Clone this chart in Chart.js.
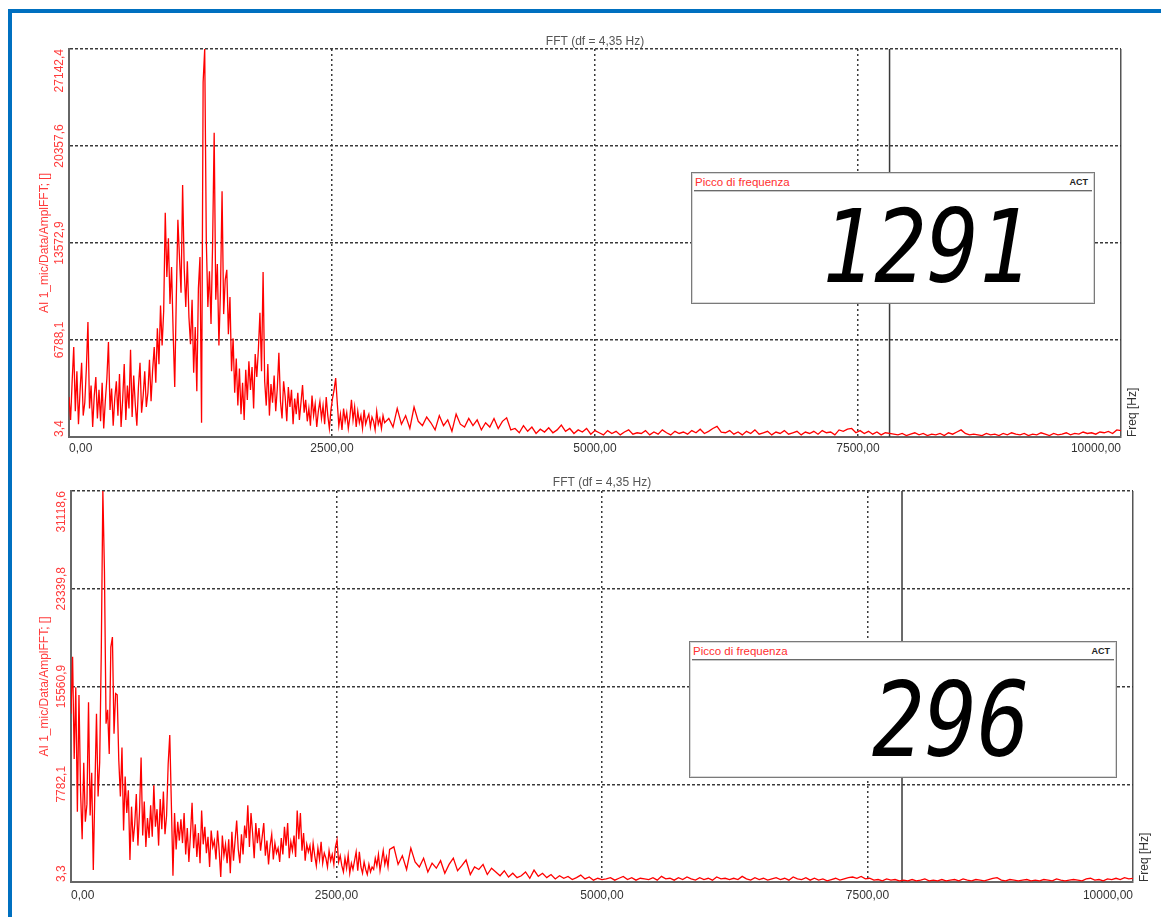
<!DOCTYPE html>
<html>
<head>
<meta charset="utf-8">
<title>FFT - Picco di frequenza</title>
<script src="https://cdn.jsdelivr.net/npm/chart.js@4.4.1/dist/chart.umd.min.js"></script>
<style>
  body { margin: 0; background: #fff; }
  #page { position: relative; width: 1161px; height: 917px; overflow: hidden; font-family: "Liberation Sans", Arial, sans-serif; }
  #frame { position: absolute; left: 8px; top: 9px; width: 1300px; height: 1000px; border-left: 4px solid #0070c0; border-top: 4px solid #0070c0; }
  canvas { position: absolute; left: 0; }
  .disp { position: absolute; background: #fff; border: 1px solid #7a7a7a; box-shadow: inset 0 0 0 1px #d8d8d8; box-sizing: border-box; overflow: hidden; }
  .disp .hdr { position: absolute; left: 2px; right: 2px; top: 2px; height: 15px; border-bottom: 1px solid #6a6a6a; box-shadow: 0 1px 0 #c8c8c8; }
  .disp .name { position: absolute; left: 1px; top: 1px; font-size: 11.5px; color: #ff3030; }
  .disp .act { position: absolute; right: 4px; top: 2px; font-size: 9px; font-weight: bold; color: #222; }
  .disp .num { position: absolute; font-family: "DejaVu Sans Mono", monospace; font-style: oblique; line-height: 1; color: #000; transform-origin: right center; white-space: pre; }
</style>
</head>
<body>
<div id="page">
  <div id="frame"></div>
  <canvas id="fftTop" width="1161" height="462" style="top:0"></canvas>
  <canvas id="fftBot" width="1161" height="455" style="top:462px"></canvas>

  <div class="disp" style="left:691px;top:172px;width:404px;height:132px">
    <div class="hdr"><span class="name">Picco di frequenza</span><span class="act">ACT</span></div>
    <div class="num" id="peakTop" style="right:63px;top:24px;font-size:101px;transform:scaleX(0.86)"></div>
  </div>
  <div class="disp" style="left:689px;top:641px;width:428px;height:137px">
    <div class="hdr"><span class="name">Picco di frequenza</span><span class="act">ACT</span></div>
    <div class="num" id="peakBot" style="right:86px;top:26px;font-size:104px;transform:scaleX(0.84)"></div>
  </div>
</div>

<script>
// bin layout: dense below 3 kHz, coarser above
const freqStepLow = 15;      // Hz, points 0..3000
const freqStartHigh = 3040;  // Hz
const freqStepHigh = 40;     // Hz, points 3040..10000

const xTickValues = [0, 2500, 5000, 7500, 10000];
const xTickLabels = ['0,00', '2500,00', '5000,00', '7500,00', '10000,00'];

const topYTicks = [3.4, 6788.1, 13572.9, 20357.6, 27142.4];
const topYLabels = ['3,4', '6788,1', '13572,9', '20357,6', '27142,4'];
const botYTicks = [3.3, 7782.1, 15560.9, 23339.8, 31118.6];
const botYLabels = ['3,3', '7782,1', '15560,9', '23339,8', '31118,6'];

const topPeak = '1291';
const botPeak = '296';
const topCursor = 7800;
const botCursor = 7825;

// top spectrum, 0..3000 Hz
const topLow = [
  2800, 1200, 3900, 6300, 1800, 4600, 900, 3200, 5200, 1500,
  2400, 4800, 8050, 2000, 3600, 700, 2900, 4200, 1300, 3300,
  1100, 3800, 600, 2500, 4100, 6650, 1900, 3400, 800, 2700,
  3900, 1500, 4400, 700, 2600, 5100, 1200, 3600, 2000, 6100,
  1400, 4300, 2300, 800, 3500, 5200, 1700, 2900, 4600, 2100,
  3100, 5400, 2500, 4700, 6300, 3800, 7600, 5100, 9200, 6400,
  8800, 15680, 11200, 13900, 9300, 11900, 7300, 3500, 9800, 15190,
  12600, 10100, 17630, 11800, 9100, 12300, 8400, 6500, 9600, 4500,
  7700, 3200, 10400, 12600, 1000, 24830, 27142, 13800, 9100, 11600,
  7900, 13500, 21280, 9600, 12100, 6400, 10300, 17200, 8600, 11000,
  11700, 7200, 9800, 4600, 6900, 3100, 5500, 2200, 4800, 1600,
  3800, 1200, 4700, 2600, 5300, 3300, 4900, 2000, 5800, 4200,
  6100, 8700, 4600, 11550, 3900, 2200, 5100, 1500, 3700, 2400,
  4300, 1800, 3400, 5900, 2500, 1300, 3900, 2800, 1100, 3500,
  2100, 3300, 900, 2700, 1600, 3100, 1200, 2400, 3640, 1700,
  2600, 1100, 2000, 800, 2900, 1500, 2300, 700, 1800, 2500,
  1300, 2200, 900, 2800, 1500, 600, 1900, 2700, 3300, 4130,
  2400, 800, 1600, 500, 2000, 1100, 1700, 600, 1400, 2600,
  1200, 2100, 700, 1800, 1000, 1500, 600, 1900, 900, 1300,
  1600, 700, 1400, 1100, 500, 1800, 900, 1300, 600, 1500,
  1000
];
// top spectrum, 3040..10000 Hz
const topHigh = [
  1300, 700, 2000, 900, 1500, 600, 2100, 1100, 800, 1400,
  1000, 500, 1500, 800, 1200, 400, 1600, 900, 700, 1300,
  800, 1200, 500, 1000, 700, 1300, 600, 1100, 1350, 500,
  600, 300, 800, 400, 700, 250, 550, 350, 650, 300,
  500, 840, 400, 600, 250, 500, 350, 600, 200, 450,
  300, 150, 450, 250, 400, 150, 350, 500, 200, 300,
  250, 450, 150, 350, 200, 500, 300, 150, 400, 250,
  350, 200, 450, 300, 550, 250, 400, 600, 750, 350,
  300, 450, 200, 350, 150, 400, 250, 500, 200, 300,
  400, 150, 350, 250, 450, 200, 300, 400, 150, 350,
  250, 400, 200, 450, 300, 350, 150, 500, 400, 550,
  600, 300, 450, 250, 400, 200, 350, 150, 300, 250,
  200, 150, 250, 100, 200, 300, 150, 250, 100, 200,
  150, 250, 100, 300, 200, 350, 500, 250, 150, 200,
  150, 100, 250, 150, 200, 100, 250, 150, 300, 200,
  150, 250, 100, 200, 150, 300, 200, 100, 250, 150,
  200, 300, 150, 250, 200, 350, 250, 300, 200, 350,
  300, 400, 250, 500, 450
];

// bottom spectrum, 0..3000 Hz
const botLow = [
  13400, 17930, 9800, 15500, 5600, 14890, 7200, 3400, 9500, 4800,
  6200, 14300, 5300, 8700, 950, 7400, 13400, 6800, 9500, 18200,
  31118, 24700, 12600, 13700, 10200, 18700, 19500, 11800, 15000, 14900,
  9700, 6800, 10700, 4100, 8400, 5500, 7300, 1750, 6000, 3200,
  4600, 7000, 2900, 5600, 9900, 3700, 6400, 2800, 5100, 3500,
  6100, 3600, 7700, 4400, 5800, 2900, 6600, 4200, 7200, 3800,
  5300, 9400, 11700, 6200, 500, 5500, 2600, 4800, 3300, 5000,
  3100, 5500, 2200, 4300, 1600, 3800, 6300, 2700, 4600, 2000,
  3900, 1500, 5700, 3000, 4400, 2300, 3600, 1200, 4100, 2800,
  3300, 1800, 4100, 2500, 400, 3700, 2100, 3000, 1500, 3400,
  700, 4000, 1700, 3300, 4900, 2600, 1500, 3800, 2200, 4500,
  3500, 6100, 2800, 5500, 3900, 1900, 4700, 3100, 4300, 2500,
  3600, 4700, 2100, 3300, 1400, 2900, 3800, 1800, 3100, 2300,
  2700, 1600, 3500, 2200, 4400, 2900, 4700, 1900, 3200, 2500,
  3700, 2000, 5700, 3400, 5500, 2500, 3900, 1700, 3000, 2400,
  2900, 1600, 3100, 2100, 1300, 2700, 1800, 3200, 1500, 2300,
  1900, 1200, 2500, 1700, 2200, 1400, 2800, 3350, 1600, 2100,
  1300, 800, 1900, 1100, 2150, 700, 1500, 1000, 1700, 2400,
  900, 2400, 1200, 700, 1600, 1000, 600, 1400, 800, 1200,
  1000, 1900, 1300, 2200, 900, 1700, 2500, 1400, 2000, 1200,
  2600
];
// bottom spectrum, 3040..10000 Hz
const botHigh = [
  2800, 1400, 2100, 1000, 2700, 1600, 1200, 1900, 800, 1500,
  1100, 1700, 700, 1400, 1900, 900, 1300, 1750, 600, 1200,
  1000, 1400, 600, 1100, 800, 500, 900, 400, 700, 350,
  500, 800, 300, 950, 450, 700, 350, 600, 250, 500,
  300, 450, 200, 350, 550, 250, 400, 150, 300, 200,
  250, 350, 150, 300, 450, 200, 350, 150, 300, 250,
  200, 350, 150, 450, 250, 300, 150, 350, 200, 400,
  250, 150, 350, 200, 300, 150, 400, 250, 300, 200,
  300, 200, 450, 250, 150, 350, 200, 300, 150, 250,
  350, 200, 300, 150, 400, 250, 200, 350, 150, 300,
  150, 250, 100, 200, 300, 150, 250, 350, 400, 300,
  450, 250, 300, 150, 200, 100, 250, 150, 200, 100,
  150, 100, 200, 100, 150, 250, 100, 150, 100, 200,
  100, 150, 200, 100, 250, 150, 100, 200, 150, 100,
  200, 300, 350, 150, 100, 200, 150, 100, 150, 200,
  100, 150, 100, 200, 150, 100, 250, 150, 100, 150,
  200, 150, 100, 250, 300, 150, 200, 100, 250, 200,
  300, 200, 350, 250, 300
];

function toPoints(low, high) {
  const pts = low.map((v, i) => ({ x: i * freqStepLow, y: v }));
  high.forEach((v, i) => pts.push({ x: freqStartHigh + i * freqStepHigh, y: v }));
  return pts;
}

Chart.defaults.font.family = '"Liberation Sans", Arial, sans-serif';
Chart.defaults.font.size = 12;

// rotated y tick labels (kept inside the plot height) and the "Freq [Hz]" tag
const sideText = {
  id: 'sideText',
  afterDraw(chart, args, opts) {
    const { ctx, chartArea: a } = chart;
    const y = chart.scales.y;
    ctx.save();
    ctx.font = '12px "Liberation Sans", Arial, sans-serif';
    ctx.textBaseline = 'middle';
    ctx.textAlign = 'center';
    ctx.fillStyle = '#ff3b3b';
    y.ticks.forEach((t, i) => {
      const txt = opts.labels[i];
      const w = ctx.measureText(txt).width;
      let p = y.getPixelForValue(t.value);
      p = Math.min(Math.max(p, a.top + w / 2), a.bottom - w / 2);
      ctx.save();
      ctx.translate(a.left - 9, p);
      ctx.rotate(-Math.PI / 2);
      ctx.fillText(txt, 0, 0);
      ctx.restore();
    });
    ctx.fillStyle = '#333';
    ctx.textAlign = 'left';
    ctx.translate(a.right + 12, a.bottom);
    ctx.rotate(-Math.PI / 2);
    ctx.fillText('Freq [Hz]', 0, 0);
    ctx.restore();
  }
};

function makeChart(id, pts, yTicks, yLabels, cursor, lay) {
  return new Chart(document.getElementById(id), {
    type: 'line',
    data: {
      datasets: [
        { data: pts, borderColor: '#ff0000', borderWidth: 1.3, pointRadius: 0, tension: 0 },
        { data: [{ x: cursor, y: yTicks[0] }, { x: cursor, y: yTicks[4] }],
          borderColor: '#3a3a3a', borderWidth: 1.5, pointRadius: 0 }
      ]
    },
    options: {
      responsive: false,
      animation: false,
      events: [],
      layout: { padding: { left: 0, top: lay.top, right: lay.right, bottom: lay.bottom } },
      plugins: {
        legend: { display: false },
        tooltip: { enabled: false },
        title: {
          display: true, text: 'FFT (df = 4,35 Hz)', color: '#555', fullSize: false,
          font: { size: 12, weight: 'normal' }, padding: { top: 0, bottom: lay.titleGap }
        },
        sideText: { labels: yLabels }
      },
      scales: {
        x: {
          type: 'linear', min: 0, max: 10000,
          afterBuildTicks: s => { s.ticks = xTickValues.map(v => ({ value: v })); },
          afterFit: s => { s.height = 22; },
          ticks: { callback: (v, i) => xTickLabels[i], align: 'inner', padding: lay.xPad, color: '#333', maxRotation: 0 },
          grid: {
            drawTicks: false,
            color: c => (c.tick && c.tick.value === 0) ? 'rgba(0,0,0,0)' : (c.tick && c.tick.value === 10000 ? '#555' : '#3a3a3a'),
            lineWidth: 1.5
          },
          border: { display: true, color: '#666', width: 2, dash: c => (c.tick && c.tick.value === 10000) ? [] : [2, 3] }
        },
        y: {
          type: 'linear', min: yTicks[0], max: yTicks[4],
          afterBuildTicks: s => { s.ticks = yTicks.map(v => ({ value: v })); },
          afterFit: s => { s.width = lay.left; },
          ticks: { display: false },
          grid: { drawTicks: false, lineWidth: 1.5, color: c => (c.tick && c.tick.value === yTicks[0]) ? 'rgba(0,0,0,0)' : '#3a3a3a' },
          border: { display: true, color: '#666', width: 2, dash: [3, 2] },
          title: { display: true, text: 'AI 1_mic/Data/AmplFFT; []', color: '#ff3b3b', font: { size: 12 }, padding: { top: 37, bottom: 0 } }
        }
      }
    },
    plugins: [sideText]
  });
}

makeChart('fftTop', toPoints(topLow, topHigh), topYTicks, topYLabels, topCursor,
  { left: 69, right: 40, top: 34.3, titleGap: 0.3, bottom: 3, xPad: 4 });
makeChart('fftBot', toPoints(botLow, botHigh), botYTicks, botYLabels, botCursor,
  { left: 71, right: 28, top: 13.8, titleGap: 0.8, bottom: 13, xPad: 6 });

document.getElementById('peakTop').textContent = topPeak;
document.getElementById('peakBot').textContent = botPeak;
</script>
</body>
</html>
